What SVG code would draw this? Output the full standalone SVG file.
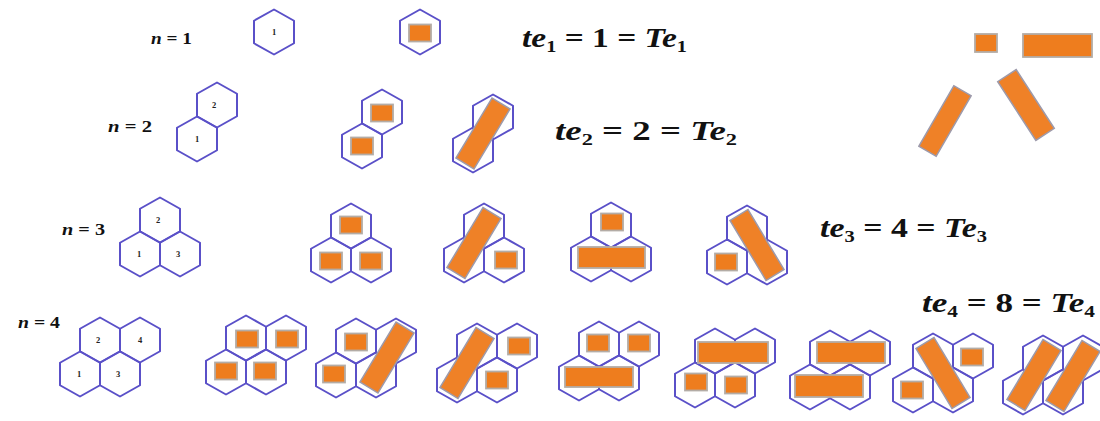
<svg xmlns="http://www.w3.org/2000/svg" xmlns:xlink="http://www.w3.org/1999/xlink" width="1100" height="421" viewBox="0 0 1100 421">
<defs>
<style>
.hx{fill:none;stroke:#5a50c8;stroke-width:2;stroke-linejoin:round}
.sq{fill:#ee7d1e;stroke:#b3aca6;stroke-width:1.8}
.dm{fill:#ef8127;stroke:#9d9aab;stroke-width:1.5}
.num{font-family:"Liberation Serif",serif;font-weight:bold;font-size:8.5px;fill:#222;text-anchor:middle}
.nl{font-family:"Liberation Serif",serif;font-weight:bold;font-size:17px;fill:#111}
.eq{font-family:"Liberation Serif",serif;font-weight:bold;font-size:28px;fill:#111}
.it{font-style:italic}
.sb{font-size:17px}
</style>
<path id="h" class="hx" d="M0,-22.5 L20,-11.25 L20,11.25 L0,22.5 L-20,11.25 L-20,-11.25Z"/>
<rect id="s" class="sq" x="-11" y="-8.5" width="22" height="17"/>
<rect id="d" class="dm" x="-35" y="-10.5" width="70" height="21"/>
</defs>
<rect width="1100" height="421" fill="#fff"/>
<g id="connectors"/>

<g id="labels">
<text class="nl" x="151" y="44" textLength="41" lengthAdjust="spacingAndGlyphs"><tspan class="it">n</tspan> = 1</text>
<text class="nl" x="108" y="132" textLength="44" lengthAdjust="spacingAndGlyphs"><tspan class="it">n</tspan> = 2</text>
<text class="nl" x="62" y="235" textLength="43" lengthAdjust="spacingAndGlyphs"><tspan class="it">n</tspan> = 3</text>
<text class="nl" x="18" y="328" textLength="42" lengthAdjust="spacingAndGlyphs"><tspan class="it">n</tspan> = 4</text>
</g>

<g id="equations">
<text class="eq" x="522" y="47" textLength="165" lengthAdjust="spacingAndGlyphs"><tspan class="it">te</tspan><tspan class="sb" dy="5">1</tspan><tspan dy="-5"> = 1 = </tspan><tspan class="it">Te</tspan><tspan class="sb" dy="5">1</tspan></text>
<text class="eq" x="555" y="140" textLength="182" lengthAdjust="spacingAndGlyphs"><tspan class="it">te</tspan><tspan class="sb" dy="5">2</tspan><tspan dy="-5"> = 2 = </tspan><tspan class="it">Te</tspan><tspan class="sb" dy="5">2</tspan></text>
<text class="eq" x="820" y="237" textLength="167" lengthAdjust="spacingAndGlyphs"><tspan class="it">te</tspan><tspan class="sb" dy="5">3</tspan><tspan dy="-5"> = 4 = </tspan><tspan class="it">Te</tspan><tspan class="sb" dy="5">3</tspan></text>
<text class="eq" x="922" y="312" textLength="173" lengthAdjust="spacingAndGlyphs"><tspan class="it">te</tspan><tspan class="sb" dy="5">4</tspan><tspan dy="-5"> = 8 = </tspan><tspan class="it">Te</tspan><tspan class="sb" dy="5">4</tspan></text>
</g>

<g id="legend">
<rect class="sq" x="975" y="34" width="22" height="18"/>
<rect class="sq" x="1023" y="34" width="69" height="23"/>
<rect class="dm" x="-35" y="-10" width="70" height="20" transform="translate(945,121) rotate(-60)"/>
<rect class="dm" x="-35" y="-11" width="70" height="22" transform="translate(1026,105) rotate(57)"/>
</g>

<g id="n1-label">
<use href="#h" x="274" y="32"/>
<text class="num" x="274" y="35">1</text>
</g>
<g id="n1-a">
<use href="#h" x="420" y="32"/>
<use href="#s" x="420" y="33"/>
</g>

<g id="n2-label">
<use href="#h" x="197" y="139"/>
<use href="#h" x="217" y="105"/>
<text class="num" x="197" y="142">1</text>
<text class="num" x="214" y="108">2</text>
</g>
<g id="n2-a">
<use href="#h" x="362" y="146"/>
<use href="#h" x="382" y="112"/>
<use href="#s" x="362" y="146"/>
<use href="#s" x="382" y="113"/>
</g>
<g id="n2-b">
<use href="#h" x="473" y="150"/>
<use href="#h" x="493" y="117"/>
<use href="#d" transform="translate(483,133.5) rotate(-59)"/>
</g>

<g id="n3-label">
<use href="#h" x="160" y="220"/>
<use href="#h" x="140" y="254"/>
<use href="#h" x="180" y="254"/>
<text class="num" x="158" y="223">2</text>
<text class="num" x="139" y="257">1</text>
<text class="num" x="178" y="257">3</text>
</g>
<g id="n3-a">
<use href="#h" x="351" y="226"/>
<use href="#h" x="331" y="260"/>
<use href="#h" x="371" y="260"/>
<use href="#s" x="351" y="225"/>
<use href="#s" x="331" y="261"/>
<use href="#s" x="371" y="261"/>
</g>
<g id="n3-b">
<use href="#h" x="484" y="226"/>
<use href="#h" x="464" y="260"/>
<use href="#h" x="504" y="260"/>
<use href="#d" transform="translate(474,243) rotate(-59)"/>
<use href="#s" x="506" y="260"/>
</g>
<g id="n3-c">
<use href="#h" x="611" y="225"/>
<use href="#h" x="591" y="259"/>
<use href="#h" x="631" y="259"/>
<use href="#s" x="612" y="222"/>
<rect class="sq" x="578" y="247" width="67" height="21"/>
</g>
<g id="n3-d">
<use href="#h" x="747" y="228"/>
<use href="#h" x="727" y="262"/>
<use href="#h" x="767" y="262"/>
<use href="#s" x="726" y="262"/>
<use href="#d" transform="translate(757,245) rotate(59)"/>
</g>

<g id="n4-label">
<use href="#h" x="100" y="340"/>
<use href="#h" x="140" y="340"/>
<use href="#h" x="80" y="374"/>
<use href="#h" x="120" y="374"/>
<text class="num" x="98" y="343">2</text>
<text class="num" x="140" y="343">4</text>
<text class="num" x="79" y="377">1</text>
<text class="num" x="118" y="377">3</text>
</g>
<g id="n4-a">
<use href="#h" x="246" y="338"/>
<use href="#h" x="286" y="338"/>
<use href="#h" x="226" y="372"/>
<use href="#h" x="266" y="372"/>
<use href="#s" x="247" y="339"/>
<use href="#s" x="287" y="339"/>
<use href="#s" x="226" y="371"/>
<use href="#s" x="265" y="371"/>
</g>
<g id="n4-b">
<use href="#h" x="356" y="341"/>
<use href="#h" x="396" y="341"/>
<use href="#h" x="336" y="375"/>
<use href="#h" x="376" y="375"/>
<use href="#s" x="356" y="342"/>
<use href="#s" x="334" y="374"/>
<use href="#d" transform="translate(387,357.5) rotate(-59)"/>
</g>
<g id="n4-c">
<use href="#h" x="477" y="346"/>
<use href="#h" x="517" y="346"/>
<use href="#h" x="457" y="380"/>
<use href="#h" x="497" y="380"/>
<use href="#d" transform="translate(467,363) rotate(-59)"/>
<use href="#s" x="519" y="346"/>
<use href="#s" x="497" y="380"/>
</g>
<g id="n4-d">
<use href="#h" x="599" y="344"/>
<use href="#h" x="639" y="344"/>
<use href="#h" x="579" y="378"/>
<use href="#h" x="619" y="378"/>
<use href="#s" x="598" y="343"/>
<use href="#s" x="639" y="343"/>
<rect class="sq" x="565" y="367" width="68" height="20"/>
</g>
<g id="n4-e">
<use href="#h" x="715" y="351"/>
<use href="#h" x="755" y="351"/>
<use href="#h" x="695" y="385"/>
<use href="#h" x="735" y="385"/>
<rect class="sq" x="698" y="342" width="70" height="21"/>
<use href="#s" x="696" y="382"/>
<use href="#s" x="736" y="385"/>
</g>
<g id="n4-f">
<use href="#h" x="830" y="353"/>
<use href="#h" x="870" y="353"/>
<use href="#h" x="810" y="387"/>
<use href="#h" x="850" y="387"/>
<rect class="sq" x="817" y="342" width="68" height="21"/>
<rect class="sq" x="795" y="375" width="68" height="22"/>
</g>
<g id="n4-g">
<use href="#h" x="933" y="356"/>
<use href="#h" x="973" y="356"/>
<use href="#h" x="913" y="390"/>
<use href="#h" x="953" y="390"/>
<use href="#s" x="972" y="357"/>
<use href="#s" x="912" y="390"/>
<use href="#d" transform="translate(943,373) rotate(59)"/>
</g>
<g id="n4-h">
<use href="#h" x="1043" y="358"/>
<use href="#h" x="1083" y="358"/>
<use href="#h" x="1023" y="392"/>
<use href="#h" x="1063" y="392"/>
<use href="#d" transform="translate(1034,375) rotate(-59)"/>
<use href="#d" transform="translate(1073,376) rotate(-59)"/>
</g>
</svg>
